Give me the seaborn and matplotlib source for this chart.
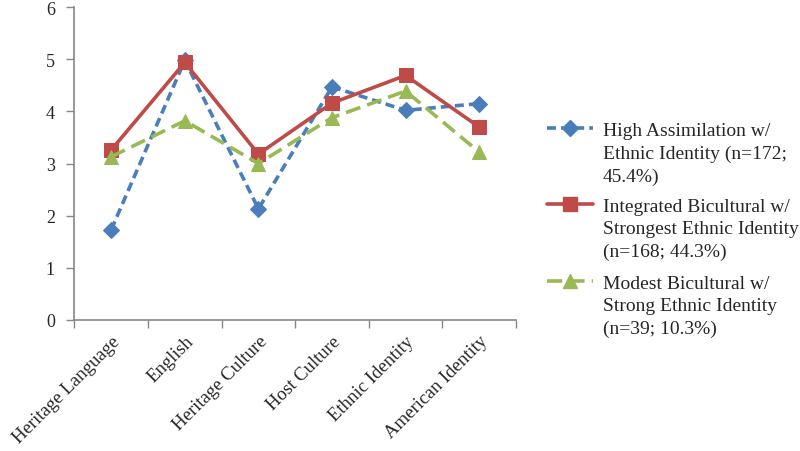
import pandas as pd
import matplotlib
matplotlib.use('Agg')
import matplotlib.pyplot as plt
from matplotlib.lines import Line2D
from matplotlib.ticker import FixedLocator, NullFormatter
import seaborn as sns

sns.set_style("white")
plt.rcParams['font.family'] = ['Liberation Serif', 'DejaVu Serif']

categories = ['Heritage Language', 'English', 'Heritage Culture',
              'Host Culture', 'Ethnic Identity', 'American Identity']
series_names = ['High Assimilation w/\nEthnic Identity (n=172;\n45.4%)',
                'Integrated Bicultural w/\nStrongest Ethnic Identity\n(n=168; 44.3%)',
                'Modest Bicultural w/\nStrong Ethnic Identity\n(n=39; 10.3%)']
high_assim = [1.73, 4.98, 2.13, 4.47, 4.02, 4.15]
integrated = [3.26, 4.94, 3.18, 4.16, 4.69, 3.70]
modest = [3.13, 3.82, 3.00, 3.88, 4.39, 3.22]

colors = ['#4A7EBB', '#BE4B48', '#98B954']
markers = ['D', 's', '^']
marker_sizes = [8.5, 10, 10.5]
dash_styles = [(2.5, 1.4), '', (4.2, 2.0)]

rows = []
for name, vals in zip(series_names, [high_assim, integrated, modest]):
    for i, v in enumerate(vals):
        rows.append([i, v, name])
df = pd.DataFrame(rows, columns=['pos', 'value', 'group'])

fig = plt.figure(figsize=(8, 4.52), dpi=100)
ax = fig.add_axes([0.093, 0.29, 0.552, 0.692])

for name, c, m, ms, d in zip(series_names, colors, markers, marker_sizes, dash_styles):
    sub = df[df['group'] == name]
    sns.lineplot(data=sub, x='pos', y='value', ax=ax, color=c, marker=m,
                 markersize=ms, markeredgecolor=c, linewidth=2.6,
                 dashes=False, legend=False)
    line = ax.lines[-1]
    if d:
        line.set_dashes(d)

ax.set_xlim(-0.5, len(categories) - 0.5)
ax.set_ylim(0, 6)
ax.set_yticks(range(0, 7))
ax.set_xticks(range(len(categories)))
ax.set_xticklabels(categories, rotation=45, ha='right', rotation_mode='anchor', fontsize=13.5)
ax.xaxis.set_minor_locator(FixedLocator([i - 0.5 for i in range(len(categories) + 1)]))
ax.xaxis.set_minor_formatter(NullFormatter())
ax.tick_params(axis='x', which='major', length=0, pad=9)
ax.tick_params(axis='x', which='minor', length=6, width=1, color='#868686', direction='out', bottom=True)
ax.tick_params(axis='y', length=6, width=1, color='#868686', direction='out', left=True, pad=8, labelsize=13)
ax.set_xlabel('')
ax.set_ylabel('')
for s in ['top', 'right']:
    ax.spines[s].set_visible(False)
for s in ['left', 'bottom']:
    ax.spines[s].set_color('#868686')
    ax.spines[s].set_linewidth(1.2)

# legend, Excel-style with marker on first text line
legend_tops = [129, 205, 282]
for name, c, m, ms, d, ytop in zip(series_names, colors, markers, marker_sizes, dash_styles, legend_tops):
    yf = 1 - ytop / 452
    h = Line2D([547 / 800, 570 / 800, 593 / 800], [yf, yf, yf], transform=fig.transFigure,
               color=c, marker=m, markersize=ms, markeredgecolor=c,
               markevery=[1], linewidth=2.6)
    if d:
        h.set_dashes(d)
    fig.add_artist(h)
    fig.text(603 / 800, yf + 6 / 452, name, fontsize=14, va='top', ha='left',
             linespacing=1.42)

fig.savefig('out.png', dpi=100)
